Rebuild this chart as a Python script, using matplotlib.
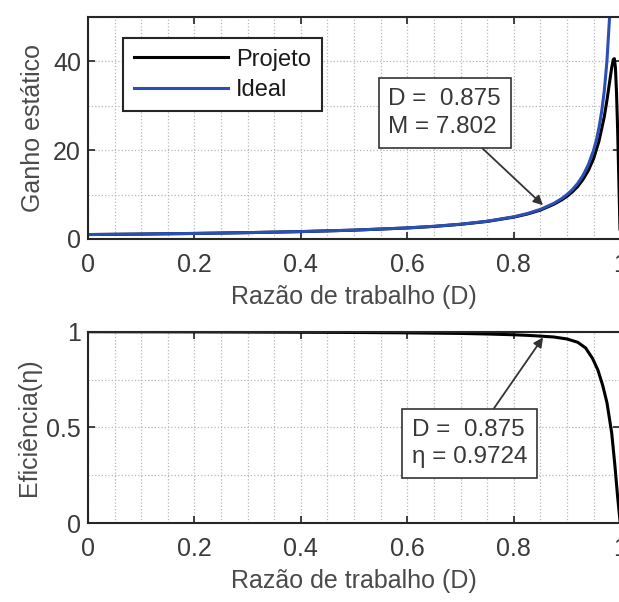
import numpy as np
import matplotlib
matplotlib.use("Agg")
import matplotlib.pyplot as plt
from matplotlib.ticker import MultipleLocator

plt.rcParams['font.family'] = ['Liberation Sans', 'DejaVu Sans']

# values
d_ideal = [0.0, 0.1, 0.2, 0.3, 0.4, 0.5, 0.6, 0.65, 0.7, 0.75, 0.8, 0.825, 0.85, 0.875,
           0.89, 0.9, 0.91, 0.92, 0.93, 0.94, 0.95, 0.955, 0.96, 0.965, 0.97, 0.975, 0.98]
m_ideal = [1.0, 1.11, 1.25, 1.43, 1.67, 2.0, 2.5, 2.86, 3.33, 4.0, 5.0, 5.71, 6.67, 8.0,
           9.09, 10.0, 11.1, 12.5, 14.3, 16.7, 20.0, 22.2, 25.0, 28.6, 33.3, 40.0, 50.0]

d_proj = [0.0, 0.1, 0.2, 0.3, 0.4, 0.5, 0.6, 0.65, 0.7, 0.75, 0.8, 0.825, 0.85, 0.875,
          0.89, 0.9, 0.91, 0.92, 0.93, 0.94, 0.95, 0.96, 0.97, 0.975, 0.98, 0.984,
          0.987, 0.989, 0.991, 0.993, 0.995, 0.997, 1.0]
m_proj = [1.0, 1.11, 1.25, 1.43, 1.66, 1.99, 2.48, 2.83, 3.30, 3.95, 4.92, 5.60, 6.50, 7.80,
          8.80, 9.60, 10.6, 11.8, 13.4, 15.4, 18.1, 22.0, 27.5, 31.2, 35.3, 38.6,
          40.4, 40.6, 38.5, 33.0, 25.0, 15.0, 0.0]

d_eff = [0.0, 0.1, 0.2, 0.3, 0.4, 0.5, 0.6, 0.7, 0.75, 0.8, 0.825, 0.85, 0.875, 0.9,
         0.92, 0.935, 0.948, 0.958, 0.967, 0.975, 0.984, 0.99, 0.995, 1.0]
eta = [1.0, 0.9995, 0.999, 0.998, 0.997, 0.996, 0.994, 0.991, 0.988, 0.984, 0.981, 0.977,
       0.9724, 0.962, 0.945, 0.915, 0.86, 0.80, 0.72, 0.63, 0.47, 0.30, 0.14, 0.0]

tick_col = '#3a3a3a'
lab_col = '#4a4a4a'

fig = plt.figure(figsize=(6.19, 6.02), dpi=100)
ax1 = fig.add_axes([0.142, 0.603, 0.860, 0.369])
ax2 = fig.add_axes([0.142, 0.131, 0.860, 0.318])


def style(ax):
    ax.set_xlim(0, 1)
    ax.xaxis.set_major_locator(MultipleLocator(0.2))
    ax.xaxis.set_minor_locator(MultipleLocator(0.05))
    ax.tick_params(which='both', direction='in', top=True, right=True,
                   colors='#222222', labelcolor=tick_col, labelsize=18)
    ax.tick_params(which='major', length=5, width=1.2)
    ax.tick_params(which='minor', length=0)
    ax.tick_params(axis='x', pad=10)
    ax.tick_params(axis='y', pad=5)
    ax.grid(True, which='both', linestyle=':', color='#b8b8b8', linewidth=0.9)
    for s in ax.spines.values():
        s.set_color('#262626')
        s.set_linewidth(1.5)
    ax.set_xlabel('Razão de trabalho (D)', fontsize=18, color=lab_col, labelpad=6)
    ax.set_xticks([0, 0.2, 0.4, 0.6, 0.8, 1.0])
    ax.set_xticklabels(['0', '0.2', '0.4', '0.6', '0.8', '1'])


ax1.plot(d_proj, m_proj, color='black', linewidth=2.2, label='Projeto')
ax1.plot(d_ideal, m_ideal, color='#2a4fb5', linewidth=2.2, label='Ideal')
style(ax1)
ax1.set_ylim(0, 50)
ax1.yaxis.set_major_locator(MultipleLocator(20))
ax1.yaxis.set_minor_locator(MultipleLocator(10))
ax1.set_ylabel('Ganho estático', fontsize=18, color=lab_col, labelpad=6)
leg = ax1.legend(loc='upper left', bbox_to_anchor=(0.066, 0.905), fontsize=17,
                 frameon=True, fancybox=False, handlelength=4.0, handletextpad=0.35,
                 borderpad=0.45, labelspacing=0.35, borderaxespad=0)
leg.get_frame().set_edgecolor('#262626')
leg.get_frame().set_linewidth(1.5)
leg.get_frame().set_alpha(1)
for t in leg.get_texts():
    t.set_color('#1a1a1a')

box = dict(boxstyle='square,pad=0.4', fc='white', ec='#333333', lw=1.2)
ax1.annotate('D =  0.875\nM = 7.802', xy=(0.855, 7.6), xytext=(0.670, 28.4),
             fontsize=17.5, color='#383838', bbox=box, va='center', ha='center',
             multialignment='left', linespacing=1.35,
             arrowprops=dict(arrowstyle='-|>', color='#333333', lw=1.3,
                             shrinkA=0, shrinkB=0, mutation_scale=14))

ax2.plot(d_eff, eta, color='black', linewidth=2.2)
style(ax2)
ax2.set_ylim(0, 1)
ax2.yaxis.set_major_locator(MultipleLocator(0.5))
ax2.yaxis.set_minor_locator(MultipleLocator(0.25))
ax2.set_yticks([0, 0.5, 1])
ax2.set_yticklabels(['0', '0.5', '1'])
ax2.set_ylabel('Eficiência(η)', fontsize=18, color=lab_col, labelpad=4)
ax2.annotate('D =  0.875\nη = 0.9724', xy=(0.855, 0.97), xytext=(0.717, 0.416),
             fontsize=17.5, color='#383838', bbox=box, va='center', ha='center',
             multialignment='left', linespacing=1.35,
             arrowprops=dict(arrowstyle='-|>', color='#333333', lw=1.3,
                             shrinkA=0, shrinkB=0, mutation_scale=14))

fig.savefig('out.png', dpi=100)
